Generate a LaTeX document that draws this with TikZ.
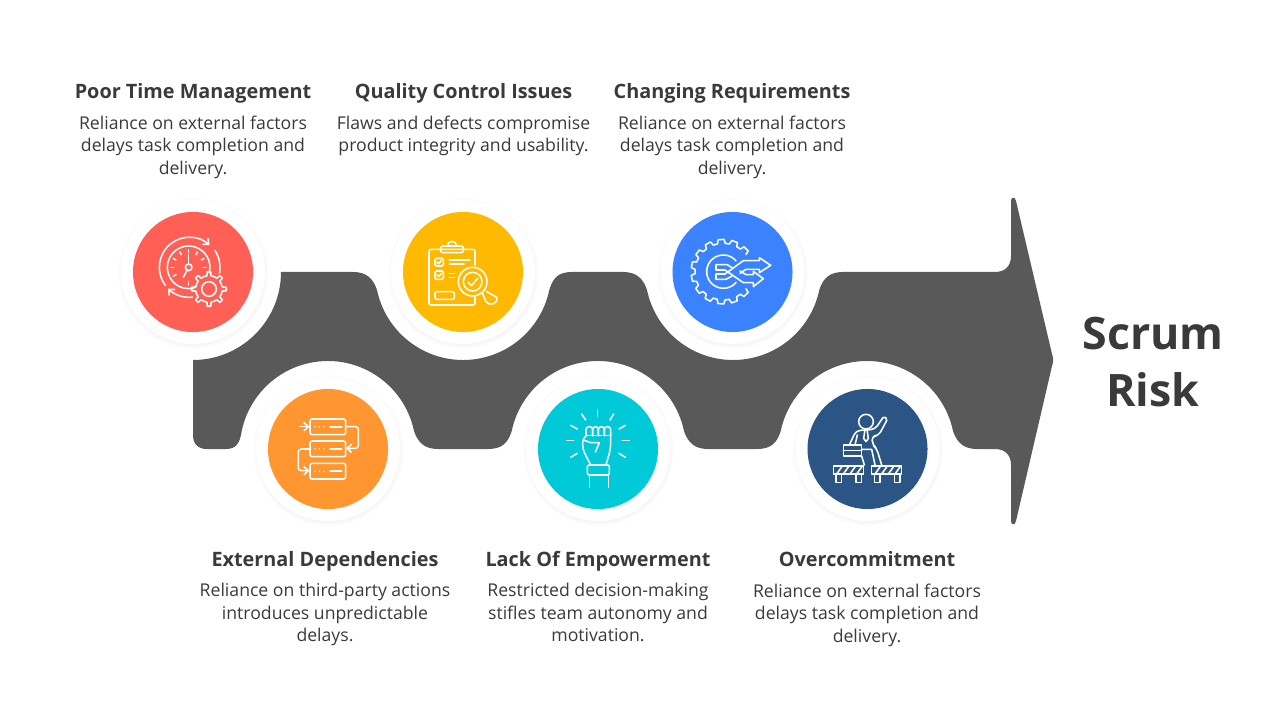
\documentclass[tikz,border=0pt]{standalone}
\usepackage{fontspec}
\usepackage{xcolor}
\usetikzlibrary{arrows.meta,positioning,shadows}
\setmainfont{Open Sans}
\definecolor{ribbon}{HTML}{595959}
\definecolor{txtdark}{HTML}{3A3A3A}
\definecolor{cred}{HTML}{FF5F55}
\definecolor{cyellow}{HTML}{FFB900}
\definecolor{cblue}{HTML}{3B82FF}
\definecolor{corange}{HTML}{FF9630}
\definecolor{ccyan}{HTML}{00C9D8}
\definecolor{cnavy}{HTML}{2B5585}
% center, angle list, half tooth, base radius, tip radius, tooth step
\newcommand{\gearicon}[6]{%
  \foreach \ang in {#2} {
    \draw[shift={(#1)}] (\ang-#3:#4) -- (\ang-#3*0.65:#5) -- (\ang+#3*0.65:#5) -- (\ang+#3:#4)
      arc[start angle=\ang+#3, end angle=\ang+#6-#3, radius=#4];
  }}

\begin{document}
\begin{tikzpicture}[
  x=0.025cm, y=0.025cm,
  head/.style={font=\fontsize{14.1}{17}\selectfont\bfseries, text=txtdark, inner sep=0pt, anchor=base},
  body/.style={font=\fontsize{12.55}{16}\selectfont, text=txtdark, align=center, inner sep=0pt, anchor=north},
  ringnode/.style={circle, fill=white, minimum size=3.6cm, inner sep=0pt, outer sep=0pt,
    circular drop shadow={shadow scale=1.05, shadow xshift=0pt, shadow yshift=-0.8pt, opacity=0.18}},
  disc/.style={circle, minimum size=3cm, inner sep=0pt, outer sep=0pt},
  iconline/.style={white, line width=1.1pt, line join=round, line cap=round},
  barb/.style={-{Straight Barb[length=3.2pt, width=6pt]}}
]
  \useasboundingbox (0,0) rectangle (1280,-720);
  % arrow ribbon
  \fill[ribbon] (193,-360) arc[start angle=-90, end angle=0, radius=88]
    -- (353,-272) .. controls (366,-272) and (373,-278) .. (377,-290)
    arc[start angle=191.8, end angle=348.2, radius=88]
    .. controls (553,-278) and (558,-272) .. (572,-272)
    -- (623,-272) .. controls (636,-272) and (643,-278) .. (647,-290)
    arc[start angle=191.8, end angle=348.2, radius=88]
    .. controls (823,-278) and (830,-272) .. (843,-272)
    -- (995,-272) .. controls (1005,-272) and (1011,-266) .. (1011,-256)
    -- (1011,-201) .. controls (1011,-197) and (1015,-196) .. (1016,-201)
    -- (1052,-354) .. controls (1053.5,-358) and (1053.5,-362) .. (1052,-366)
    -- (1016,-521) .. controls (1015,-526) and (1011,-525) .. (1011,-521)
    -- (1011,-465) .. controls (1011,-455) and (1005,-449) .. (995,-449)
    -- (977,-449) .. controls (964,-449) and (957,-443) .. (953,-431)
    arc[start angle=11.8, end angle=168.2, radius=88]
    .. controls (777,-443) and (771,-449) .. (757,-449)
    -- (708,-449) .. controls (695,-449) and (688,-443) .. (684,-431)
    arc[start angle=11.8, end angle=168.2, radius=88]
    .. controls (508,-443) and (502,-449) .. (488,-449)
    -- (438,-449) .. controls (425,-449) and (418,-443) .. (414,-431)
    arc[start angle=11.8, end angle=168.2, radius=88]
    .. controls (240,-442) and (237,-449) .. (226,-449)
    -- (207,-449) .. controls (198,-449) and (193,-444) .. (193,-435) -- cycle;
  % rings and discs
  \node[ringnode] (ringa) at (193,-272) {};
  \node[disc, fill=cred] (disca) at (ringa) {};
  \node[ringnode] (ringb) at (463,-272) {};
  \node[disc, fill=cyellow] (discb) at (ringb) {};
  \node[ringnode] (ringc) at (732.5,-272) {};
  \node[disc, fill=cblue] (discc) at (ringc) {};
  \node[ringnode] (ringd) at (328,-449) {};
  \node[disc, fill=corange] (discd) at (ringd) {};
  \node[ringnode] (ringe) at (598,-449) {};
  \node[disc, fill=ccyan] (disce) at (ringe) {};
  \node[ringnode] (ringf) at (867.5,-449) {};
  \node[disc, fill=cnavy] (discf) at (ringf) {};
  % texts top
  \node[head] (heada) at (193,-99) {Poor Time Management};
  \node[body] (bodya) at (193,-115.3) {Reliance on external factors\\delays task completion and\\delivery.};
  \node[head] (headb) at (463.5,-99) {Quality Control Issues};
  \node[body] (bodyb) at (463.5,-115.3) {Flaws and defects compromise\\product integrity and usability.};
  \node[head] (headc) at (732,-99) {Changing Requirements};
  \node[body] (bodyc) at (732,-115.3) {Reliance on external factors\\delays task completion and\\delivery.};
  % texts bottom
  \node[head] (headd) at (325,-566.5) {External Dependencies};
  \node[body] (bodyd) at (325,-583.3) {Reliance on third-party actions\\introduces unpredictable\\delays.};
  \node[head] (heade) at (598,-566.5) {Lack Of Empowerment};
  \node[body] (bodye) at (598,-583.3) {Restricted decision-making\\stifles team autonomy and\\motivation.};
  \node[head] (headf) at (867,-566.5) {Overcommitment};
  \node[body] (bodyf) at (867,-583.3) {Reliance on external factors\\delays task completion and\\delivery.};
  % title
  \node[font=\fontsize{31.8}{40}\selectfont\bfseries, text=txtdark, align=center, inner sep=0pt] (title) at (1153,-362) {Scrum\\Risk};
  % icon a, clock and gear
  \begin{scope}[iconline, shift={(110,-190)}, scale=1/3]
    \draw (236,-232) ++(-15:64) arc[start angle=-15, end angle=285, radius=64];
    \draw (236,-232) circle[radius=10];
    \draw (236,-222) -- (236,-195);
    \draw (231,-241) -- (220,-262);
    \foreach \ang in {0,30,...,210,270} \draw (236,-232) ++(\ang:44) -- ++(\ang:9);
    \draw[barb] (238,-232) ++(217:90) arc[start angle=217, end angle=48, radius=90];
    \draw (238,-232) ++(33:92) arc[start angle=33, end angle=-11, radius=92];
    \draw[barb] (238,-232) ++(-84:90) arc[start angle=-84, end angle=-135, radius=90];
    \gearicon{297,-297}{0,45,...,315}{9}{40}{52}{45}
    \draw (297,-297) circle[radius=22];
  \end{scope}
  % icon b, clipboard and lens
  \begin{scope}[iconline, shift={(390,-190)}, scale=1/3]
    \draw[rounded corners=1.5pt] (255,-225) -- (255,-178) -- (117,-178) -- (117,-345) -- (255,-345) -- (255,-320);
    \draw[rounded corners=1.5pt] (152,-168) rectangle (220,-188);
    \draw (172,-168) arc[start angle=180, end angle=0, radius=14];
    \draw[rounded corners=1pt] (135,-205) rectangle (160,-228);
    \draw[rounded corners=1pt] (135,-243) rectangle (160,-268);
    \draw (141,-216) -- (146,-221) -- (154,-211);
    \draw (141,-255) -- (146,-260) -- (154,-250);
    \draw (178,-210) -- (240,-210);
    \draw (178,-222) -- (222,-222);
    \draw (178,-250) -- (195,-250);
    \draw (178,-262) -- (195,-262);
    \draw[rounded corners=1pt] (135,-305) rectangle (193,-328);
    \draw (248,-275) circle[radius=43];
    \draw (248,-275) circle[radius=28];
    \draw (234,-277) -- (244,-287) -- (263,-265);
    \draw (277,-309) -- (288,-335) .. controls (298,-350) and (325,-342) .. (320,-322) -- (289,-304);
  \end{scope}
  % icon c, gear and shuffle arrows
  \begin{scope}[iconline, shift={(390,-190)}, scale=1/3]
    \gearicon{1000,-245}{45,69.5,...,290.5}{8}{85}{97}{24.5}
    \gearicon{1000,-245}{315}{8}{85}{97}{16}
    \draw (1000,-245) ++(40:50) arc[start angle=40, end angle=320, radius=50];
    \draw (1030,-236) -- (1012,-224) -- (978,-224) -- (978,-240) -- (1005,-240) -- (1060,-278) -- (1090,-278) -- (1090,-290) -- (1120,-266) -- (1090,-244) -- (1090,-254) -- (1068,-254) -- (1050,-243);
    \draw (1026,-258) -- (1008,-268) -- (978,-268) -- (978,-252) -- (1005,-252) -- (1060,-212) -- (1108,-212) -- (1108,-203) -- (1142,-226) -- (1108,-248) -- (1108,-238) -- (1068,-238) -- (1050,-250);
  \end{scope}
  % icon d, chained boxes
  \begin{scope}[iconline, shift={(180,-350)}, scale=1/3]
    \foreach \y in {-207,-273,-340} {
      \draw[rounded corners=1.5pt] (390,\y) rectangle (497,\y-47);
      \foreach \x in {405,418,431} \fill (\x,\y-23.5) circle[radius=2.5];
      \draw[line width=1.3pt] (450,\y-23.5) -- (485,\y-23.5);
    }
    \draw[barb] (360,-230) -- (388,-230);
    \draw[barb, rounded corners=2pt] (498,-230) -- (535,-230) -- (535,-295) -- (498,-295);
    \draw[barb, rounded corners=2pt] (390,-297) -- (355,-297) -- (355,-362) -- (388,-362);
  \end{scope}
  % icon e, raised fist
  \begin{scope}[iconline, shift={(520,-370)}, scale=1/3]
    \draw (233,-120) -- (233,-140);
    \draw (185,-132) -- (197,-150);
    \draw (281,-132) -- (270,-150);
    \draw (152,-166) -- (172,-177);
    \draw (316,-166) -- (297,-177);
    \draw (140,-212) -- (161,-212);
    \draw (307,-212) -- (328,-212);
    \draw (152,-262) -- (172,-250);
    \draw (316,-262) -- (297,-250);
    \foreach \x/\w in {198/20,218/17,235/18,253/19}
      \draw[rounded corners=2pt] (\x,-197) -- (\x,-170) -- (\x+\w,-170) -- (\x+\w,-197);
    \draw (198,-197) -- (272,-197);
    \draw[rounded corners=3pt] (198,-197) -- (188,-205) -- (188,-238) -- (212,-285);
    \draw[rounded corners=3pt] (272,-190) -- (272,-235) -- (258,-285);
    \draw (190,-210) -- (212,-218) -- (238,-218) -- (226,-246);
    \draw[rounded corners=1pt] (202,-285) rectangle (268,-315);
    \draw (208,-315) -- (208,-352);
    \draw (265,-315) -- (265,-352);
  \end{scope}
  % icon f, man on barriers
  \begin{scope}[iconline, shift={(770,-190)}, scale=1/3]
    \draw (288,-695) circle[radius=22];
    \draw (338,-684) .. controls (345,-678) and (352,-685) .. (350,-692);
    \draw[rounded corners=3pt] (338,-684) -- (315,-718) -- (258,-722) -- (238,-765);
    \draw[rounded corners=3pt] (350,-692) -- (325,-738) -- (305,-738) -- (308,-765) -- (320,-775) -- (335,-825);
    \draw (262,-735) -- (255,-765);
    \draw (275,-778) -- (305,-778) -- (315,-825);
    \draw (275,-798) -- (283,-825);
    \draw (285,-718) -- (281,-745) -- (288,-755) -- (295,-745) -- (291,-718);
    \draw (220,-765) rectangle (275,-798);
    \draw (220,-782) -- (275,-782);
    \foreach \dx in {0,115} {
      \draw (190+\dx,-828) rectangle (280+\dx,-852);
      \foreach \x in {200,220,240,260} \draw (\x+\dx,-852) -- (\x+\dx+17,-828);
      \draw (198+\dx,-852) -- (198+\dx,-877) -- (215+\dx,-877) -- (215+\dx,-852);
      \draw (258+\dx,-852) -- (258+\dx,-877) -- (275+\dx,-877) -- (275+\dx,-852);
    }
  \end{scope}
\end{tikzpicture}
\end{document}
